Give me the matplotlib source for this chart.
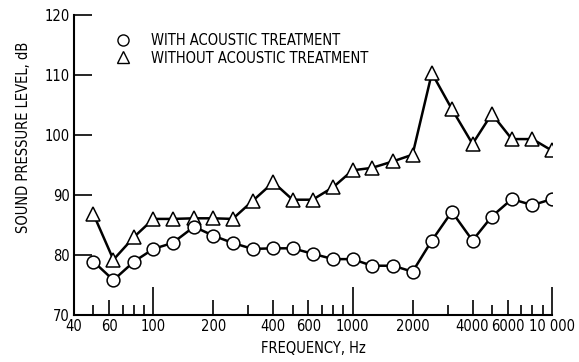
import numpy as np
import matplotlib.pyplot as plt
from matplotlib.lines import Line2D

plt.rcParams['font.family'] = ['DejaVu Sans']
plt.rcParams['font.stretch'] = 'condensed'

# third-octave band centre frequencies, Hz
freq = [50, 63, 80, 100, 125, 160, 200, 250, 315, 400, 500, 630, 800,
        1000, 1250, 1600, 2000, 2500, 3150, 4000, 5000, 6300, 8000, 10000]
spl_with = [78.9, 75.8, 78.9, 81.0, 82.0, 84.7, 83.2, 82.0, 81.0, 81.1, 81.1, 80.2,
            79.3, 79.3, 78.2, 78.2, 77.2, 82.4, 87.2, 82.4, 86.4, 89.3, 88.3, 89.3]
spl_without = [86.8, 79.2, 83.0, 86.0, 86.0, 86.1, 86.1, 86.0, 89.0, 92.1, 89.2, 89.2,
               91.3, 94.1, 94.5, 95.6, 96.7, 110.3, 104.3, 98.5, 103.5, 99.3, 99.3, 97.4]

label_ticks = [40, 60, 100, 200, 400, 600, 1000, 2000, 4000, 6000, 10000]
label_text = ['40', '60', '100', '200', '400', '600', '1000', '2000', '4000', '6000', '10 000']
minor_ticks = [50, 70, 80, 90, 300, 500, 700, 800, 900, 3000, 5000, 7000, 8000, 9000]
y_ticks = [70, 80, 90, 100, 110, 120]

fs = 10.5

fig = plt.figure(figsize=(5.79, 3.62), dpi=100)
ax = fig.add_axes([0.128, 0.130, 0.825, 0.829])

ax.plot(freq, spl_without, color='black', lw=1.8, marker='^', ms=10.5,
        mfc='white', mec='black', mew=1.1, zorder=3)
ax.plot(freq, spl_with, color='black', lw=1.8, marker='o', ms=9.2,
        mfc='white', mec='black', mew=1.1, zorder=3)

ax.set_xscale('log')
ax.set_xlim(40, 10000)
ax.set_ylim(70, 120)

ax.set_xticks(label_ticks)
ax.set_xticklabels(label_text)
ax.set_xticks(minor_ticks, minor=True)
ax.xaxis.set_minor_formatter(plt.NullFormatter())
ax.tick_params(axis='x', which='major', direction='in', length=11, width=1.2,
               labelsize=fs, pad=3)
ax.tick_params(axis='x', which='minor', direction='in', length=7, width=1.2)
for t, v in zip(ax.xaxis.get_major_ticks(), label_ticks):
    if v in (100, 1000, 10000):
        t.tick1line.set_markersize(20)
    if v == 40:
        t.tick1line.set_markersize(0)

ax.set_yticks(y_ticks)
ax.tick_params(axis='y', direction='in', length=13, width=1.2, labelsize=fs, pad=3)

for s in ('top', 'right'):
    ax.spines[s].set_visible(False)
for s in ('left', 'bottom'):
    ax.spines[s].set_linewidth(1.5)

ax.set_xlabel('FREQUENCY, Hz', fontsize=fs, labelpad=5)
fig.text(0.04, 0.62, 'SOUND PRESSURE LEVEL, dB', rotation=90, fontsize=fs,
         ha='center', va='center')

handles = [Line2D([], [], ls='none', marker='o', ms=8, mfc='white', mec='black', mew=1.0),
           Line2D([], [], ls='none', marker='^', ms=9, mfc='white', mec='black', mew=1.0)]
ax.legend(handles, ['WITH ACOUSTIC TREATMENT', 'WITHOUT ACOUSTIC TREATMENT'],
          loc='upper left', bbox_to_anchor=(0.075, 0.96), frameon=False,
          fontsize=fs, handlelength=1.0, handletextpad=1.4, labelspacing=0.2,
          borderaxespad=0)

fig.savefig('out.png', dpi=100)
